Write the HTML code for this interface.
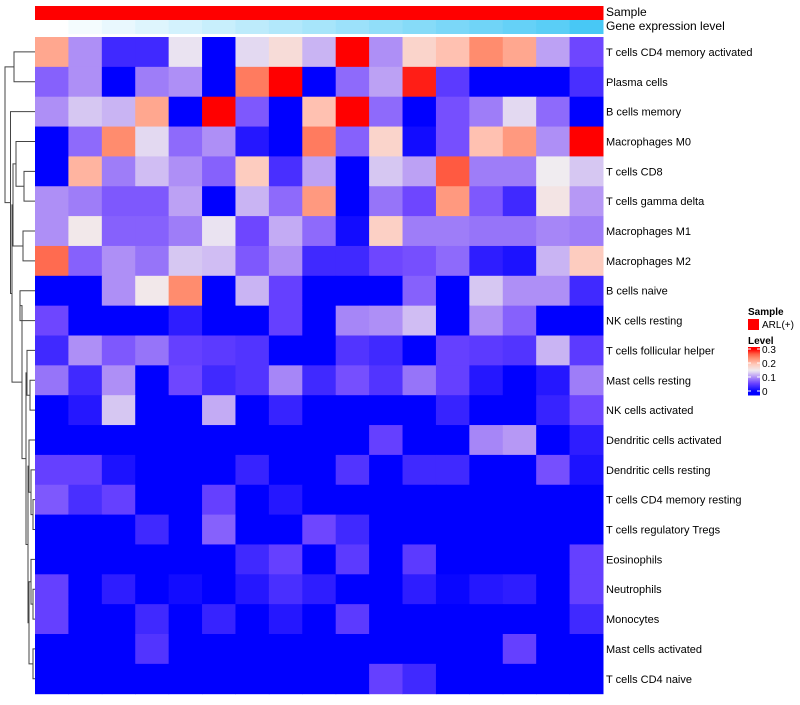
<!DOCTYPE html>
<html><head><meta charset="utf-8"><style>
body{margin:0;background:#fff;font-family:"Liberation Sans",sans-serif}
svg text{font-family:"Liberation Sans",sans-serif}
</style></head><body>
<svg id="chart" width="800" height="700" xmlns="http://www.w3.org/2000/svg"></svg>
<script>
const rowLabels=["T cells CD4 memory activated","Plasma cells","B cells memory","Macrophages M0","T cells CD8","T cells gamma delta","Macrophages M1","Macrophages M2","B cells naive","NK cells resting","T cells follicular helper","Mast cells resting","NK cells activated","Dendritic cells activated","Dendritic cells resting","T cells CD4 memory resting","T cells regulatory  Tregs","Eosinophils","Neutrophils","Monocytes","Mast cells activated","T cells CD4 naive"];
const geneLevel=[0,0.06,0.12,0.18,0.24,0.3,0.36,0.42,0.48,0.54,0.6,0.66,0.72,0.78,0.84,0.9,1];
const values=[
[.22,.10,.035,.035,.145,0,.14,.17,.12,.3,.10,.18,.20,.24,.22,.11,.06],
[.075,.10,0,.09,.10,0,.25,.3,0,.08,.11,.29,.05,0,0,0,.04],
[.10,.13,.12,.22,0,.3,.07,0,.20,.3,.08,0,.065,.09,.14,.08,0],
[0,.08,.24,.14,.08,.10,.02,0,.25,.075,.18,.01,.065,.20,.23,.10,.3],
[0,.21,.09,.125,.10,.075,.19,.04,.11,0,.13,.11,.27,.09,.09,.15,.13],
[.10,.09,.07,.07,.11,0,.12,.08,.23,0,.085,.06,.23,.07,.035,.16,.105],
[.10,.155,.075,.075,.09,.145,.06,.115,.08,.01,.185,.09,.09,.085,.085,.095,.09],
[.26,.075,.10,.085,.13,.125,.07,.10,.035,.035,.06,.065,.08,.025,.015,.12,.19],
[0,0,.10,.155,.24,0,.12,.055,0,0,0,.075,0,.13,.10,.10,.035],
[.06,0,0,0,.025,0,0,.055,0,.095,.10,.125,0,.10,.075,0,0],
[.035,.10,.07,.085,.055,.05,.045,0,0,.045,.035,0,.055,.05,.045,.12,.05],
[.085,.035,.10,0,.06,.035,.045,.095,.035,.065,.045,.085,.055,.02,0,.02,.09],
[0,.02,.13,0,0,.115,0,.03,0,0,0,0,.03,0,0,.03,.06],
[0,0,0,0,0,0,0,0,0,0,.055,0,0,.095,.105,0,.025],
[.055,.055,.015,0,0,0,.03,0,0,.045,0,.035,.035,0,0,.065,.015],
[.07,.04,.055,0,0,.055,0,.02,0,0,0,0,0,0,0,0,0],
[0,0,0,.035,0,.075,0,0,.06,.035,0,0,0,0,0,0,0],
[0,0,0,0,0,0,.035,.055,0,.05,0,.05,0,0,0,0,.055],
[.055,0,.025,0,.01,0,.02,.04,.025,0,0,.025,.005,.02,.025,0,.055],
[.055,0,0,.035,0,.03,0,.02,0,.05,0,0,0,0,0,0,.035],
[0,0,0,.045,0,0,0,0,0,0,0,0,0,0,.055,0,0],
[0,0,0,0,0,0,0,0,0,0,.055,.035,0,0,0,0,0]];
const legendTicks=[0,0.1,0.2,0.3];

function J(a,b,h){return [a,b,h];}
const tA=J(0,1,14);
const tB=J(3,J(4,5,24),16);
const tC=J(6,7,23);
const tD=J(8,9,20);
const tE=J(10,J(11,12,30),27);
const tF=J(13,J(14,J(15,16,33),31),29);
const tG=J(J(17,J(18,19,33),31),J(20,21,33),29);
const tLower=J(tD,J(tE,J(tF,tG,28),26),22);
const tMid=J(J(tB,tC,13),tLower,12);
const tree=J(tA,J(2,tMid,10.5),5);

const svg=document.getElementById('chart');const NS='http://www.w3.org/2000/svg';
const X0=35,X1=603,Y0=37,RH=29.85;const nC=values[0].length;const CW=(X1-X0)/nC;
const xS=c=>X0+c*CW, yS=r=>Y0+r*RH;
const stops=[[0,0,0,255],[0.2,110,70,255],[0.35,182,152,245],[0.5,240,236,240],[0.65,255,200,185],[0.8,255,140,110],[0.9,255,90,65],[1,255,0,0]];
function col(v){const t=Math.max(0,Math.min(1,v/0.3));
 for(let i=1;i<stops.length;i++){if(t<=stops[i][0]){const a=stops[i-1],b=stops[i];const k=(t-a[0])/(b[0]-a[0]);
  return 'rgb('+Math.round(a[1]+(b[1]-a[1])*k)+','+Math.round(a[2]+(b[2]-a[2])*k)+','+Math.round(a[3]+(b[3]-a[3])*k)+')';}}
 return 'rgb(255,0,0)';}
function mk(tag,a,p){const e=document.createElementNS(NS,tag);for(const k in a)e.setAttribute(k,a[k]);(p||svg).appendChild(e);return e}
for(let c=0;c<nC;c++){
 const s=mk('rect',{x:xS(c),y:6,width:CW+0.5,height:14,fill:'#ff0000'});
 
 
 const g=geneLevel[c];
 const a=mk('rect',{x:xS(c),y:20,width:CW+0.5,height:14,fill:'rgb('+Math.round(255-183*g)+','+Math.round(255-55*g)+','+Math.round(255-10*g)+')'});
 
 
}
let t=mk('text',{x:606,y:16,'font-size':12,fill:'#000'});t.textContent='Sample';


t=mk('text',{x:606,y:30,'font-size':12,fill:'#000'});t.textContent='Gene expression level';


values.forEach(function(row,r){row.forEach(function(v,c){
 const e=mk('rect',{x:xS(c),y:yS(r),width:CW+0.5,height:RH+0.5,fill:col(v)});
 
 });
 const l=mk('text',{x:606,y:yS(r)+RH/2+4,'font-size':11,fill:'#000'});l.textContent=rowLabels[r];
 
 
});
const dg=mk('g',{stroke:'#444','stroke-width':1,fill:'none'});


function draw(n){if(typeof n==='number')return{y:yS(n)+RH/2,x:X0};
 const a=draw(n[0]),b=draw(n[1]),h=n[2];
 mk('path',{d:'M'+a.x+','+a.y+'H'+h+'V'+b.y+'H'+b.x},dg);return{y:(a.y+b.y)/2,x:h}}
draw(tree);
t=mk('text',{x:748,y:315,'font-size':10,'font-weight':'bold'});t.textContent='Sample';


t=mk('rect',{x:748,y:319,width:11,height:11,fill:'#ff0000'});


t=mk('text',{x:762,y:328,'font-size':10});t.textContent='ARL(+)';


t=mk('text',{x:748,y:344,'font-size':10,'font-weight':'bold'});t.textContent='Level';


const LB0=395,LB1=347,TK0=391,TK1=349;
for(let i=0;i<48;i++){const v=0.3*Math.max(0,Math.min(1,((LB0-(i+0.5)*(LB0-LB1)/48)-TK0)/(TK1-TK0)));
 mk('rect',{x:748,y:LB0-(i+1)*(LB0-LB1)/48,width:12,height:(LB0-LB1)/48+0.5,fill:col(v)});}
legendTicks.forEach(function(v){const y=TK0-(TK0-TK1)*v/0.3;
 mk('line',{x1:748,x2:751,y1:y,y2:y,stroke:'#fff'});mk('line',{x1:757,x2:760,y1:y,y2:y,stroke:'#fff'});
 const l=mk('text',{x:762,y:y+4,'font-size':10});l.textContent=String(v);
 
 });
</script>
</body></html>
